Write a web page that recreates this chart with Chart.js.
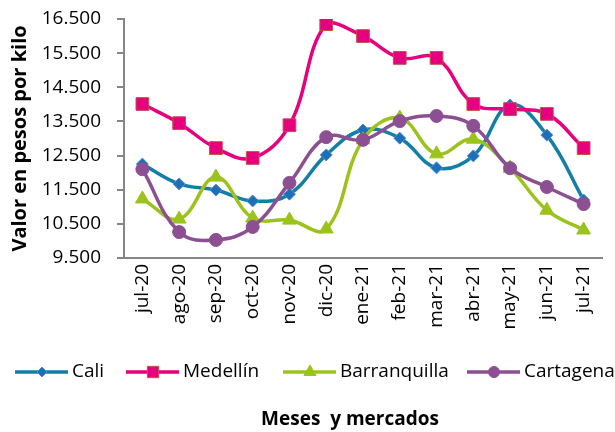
<!DOCTYPE html>
<html lang="es">
<head>
  <meta charset="UTF-8">
  <title>Valor en pesos por kilo</title>
  <style>
    html, body { margin: 0; padding: 0; background: #fff; }
    #wrap { width: 615px; height: 432px; position: relative; }
  </style>
</head>
<body>
  <div id="wrap"><canvas id="chart" width="615" height="432"></canvas></div>

  <script src="https://cdn.jsdelivr.net/npm/chart.js"></script>
  <script>
    const meses = ["jul-20", "ago-20", "sep-20", "oct-20", "nov-20", "dic-20", "ene-21",
                   "feb-21", "mar-21", "abr-21", "may-21", "jun-21", "jul-21"];
    const cali = [12250, 11670, 11490, 11170, 11370, 12520, 13250, 13010, 12140, 12490, 13980, 13100, 11200];
    const medellin = [14010, 13450, 12720, 12430, 13390, 16350, 16000, 15360, 15360, 14010, 13860, 13720, 12720];
    const barranquilla = [11230, 10640, 11870, 10670, 10610, 10350, 12960, 13600, 12550, 12980, 12130, 10900, 10320];
    const cartagena = [12100, 10260, 10030, 10410, 11700, 13040, 12960, 13510, 13660, 13370, 12130, 11580, 11080];
    const yTicks = [9500, 10500, 11500, 12500, 13500, 14500, 15500, 16500];

    const FONT = "'Open Sans', sans-serif";

    function serie(label, data, line, fill, border, style, radius, order) {
      return {
        label: label,
        data: data,
        borderColor: line,
        backgroundColor: fill,
        borderWidth: 3.5,
        tension: 0.4,
        pointStyle: style,
        pointRadius: radius,
        pointBackgroundColor: fill,
        pointBorderColor: border,
        pointBorderWidth: 1,
        order: order
      };
    }

    // leyenda y título del eje x dibujados abajo
    const bottomText = {
      id: "bottomText",
      afterDraw(chart) {
        const ctx = chart.ctx;
        const starts = [15, 126, 283, 467];
        const y = 372;
        ctx.save();
        chart.data.datasets.forEach(function (ds, i) {
          const x0 = starts[i];
          ctx.strokeStyle = ds.borderColor;
          ctx.lineWidth = 3.5;
          ctx.beginPath();
          ctx.moveTo(x0, y);
          ctx.lineTo(x0 + 53, y);
          ctx.stroke();
          ctx.fillStyle = ds.pointBackgroundColor;
          ctx.strokeStyle = ds.pointBorderColor;
          ctx.lineWidth = 1;
          Chart.helpers.drawPoint(ctx, {pointStyle: ds.pointStyle, radius: ds.pointRadius - 1, rotation: 0, borderWidth: 1}, x0 + 27, y);
          ctx.fillStyle = "#000";
          ctx.font = "19px " + FONT;
          ctx.textAlign = "left";
          ctx.textBaseline = "middle";
          ctx.fillText(ds.label, x0 + 57, y);
        });
        ctx.font = "bold 19px " + FONT;
        ctx.textAlign = "center";
        ctx.fillText("Meses  y mercados", 350, 420);
        ctx.restore();
      }
    };

    new Chart(document.getElementById("chart"), {
      type: "line",
      data: {
        labels: meses,
        datasets: [
          serie("Cali", cali, "#137fa6", "#1f6fb8", "#4f8fd0", "rectRot", 6, 4),
          serie("Medellín", medellin, "#e6007e", "#e6007e", "#c0504d", "rect", 9, 3),
          serie("Barranquilla", barranquilla, "#9bc31c", "#9bc31c", "#9bc31c", "triangle", 8, 2),
          serie("Cartagena", cartagena, "#8b4f92", "#8b4f92", "#8b4f92", "circle", 6.5, 1)
        ]
      },
      options: {
        responsive: false,
        animation: false,
        layout: { padding: { left: 0, right: 13, top: 19, bottom: 0 } },
        plugins: { legend: { display: false }, tooltip: { enabled: false } },
        scales: {
          x: {
            offset: true,
            grid: { display: false, drawTicks: false },
            border: { display: true, color: "#868686", width: 2 },
            ticks: {
              color: "#000",
              font: { family: FONT, size: 19 },
              minRotation: 90,
              maxRotation: 90,
              padding: 6,
              autoSkip: false
            },
            afterFit(scale) { scale.height = 174; }
          },
          y: {
            min: 9500,
            max: 16500,
            afterBuildTicks(scale) { scale.ticks = yTicks.map(v => ({ value: v })); },
            grid: { drawOnChartArea: false, drawTicks: true, tickLength: 7, color: "#868686", lineWidth: 2 },
            border: { display: true, color: "#868686", width: 2 },
            ticks: {
              color: "#000",
              font: { family: FONT, size: 19 },
              padding: 16,
              callback: v => String(v).replace(/\B(?=(\d{3})+(?!\d))/g, ".")
            },
            title: {
              display: true,
              text: "Valor en pesos por kilo",
              color: "#000",
              font: { family: FONT, size: 20, weight: "bold" },
              padding: { top: 8, bottom: 0 }
            },
            afterFit(scale) {
              scale.width = 124;
              scale.paddingTop = 0;
              scale.paddingBottom = 0;
            }
          }
        }
      },
      plugins: [bottomText]
    });
  </script>
</body>
</html>
